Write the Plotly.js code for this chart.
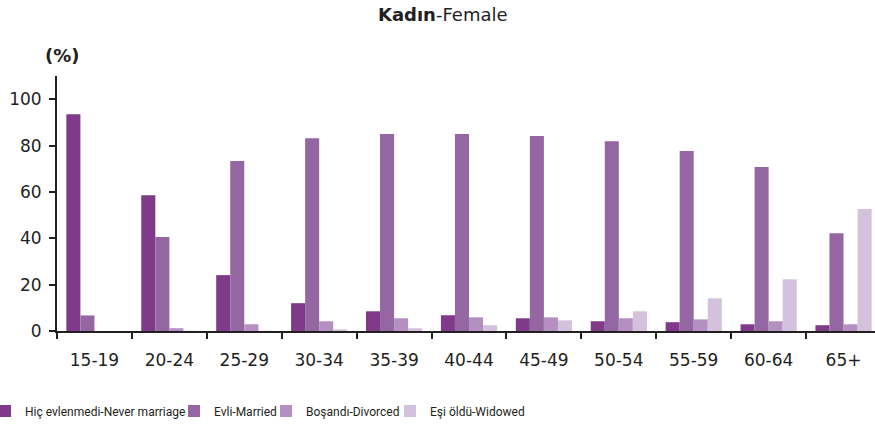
<!DOCTYPE html>
<html>
<head>
<meta charset="utf-8">
<script src="https://cdn.plot.ly/plotly-3.0.1.min.js"></script>
<style>html,body{margin:0;padding:0;background:#fff;}#chart{width:875px;height:426px;}</style>
</head>
<body>
<div id="chart"></div>
<script>
const categories = ["15-19","20-24","25-29","30-34","35-39","40-44","45-49","50-54","55-59","60-64","65+"];
const seriesNames = ["Hiç evlenmedi-Never marriage","Evli-Married","Boşandı-Divorced","Eşi öldü-Widowed"];
const neverMarried = [93.5, 58.6, 24.1, 12.0, 8.5, 6.8, 5.5, 4.2, 3.8, 2.9, 2.5];
const married = [6.7, 40.5, 73.3, 83.2, 85.0, 85.0, 84.1, 81.9, 77.6, 70.7, 42.2];
const divorced = [0.0, 1.2, 2.9, 4.2, 5.5, 5.9, 5.9, 5.5, 5.0, 4.2, 2.9];
const widowed = [0.0, 0.1, 0.1, 0.7, 1.2, 2.5, 4.6, 8.5, 14.1, 22.3, 52.6];
const colors = ["#7f3b8a", "#9467a3", "#b390c1", "#d4c2dc"];

const legendIds = ['legend', 'legend2', 'legend3', 'legend4'];
const legendLeftPx = [0, 174, 266, 390];
const legendIndent = [-15, 0, 0, 0];

const values = [neverMarried, married, divorced, widowed];
const traces = values.map((v, i) => ({
  type: 'bar',
  x: categories,
  y: v,
  name: seriesNames[i],
  legend: legendIds[i],
  marker: {color: colors[i], line: {width: 0}},
  hoverinfo: 'none'
}));

const font = "DejaVu Sans, Verdana, sans-serif";
const legendFont = {family: "Roboto, Liberation Sans, sans-serif", size: 12, color: '#231f20'};
const plotLeft = 57, plotWidth = 818;

const layout = {
  width: 875, height: 426,
  margin: {l: 57, r: 0, t: 76, b: 95, pad: 0},
  paper_bgcolor: '#fff', plot_bgcolor: '#fff',
  barmode: 'group', bargap: 0.25, bargroupgap: 0,
  font: {family: font, size: 17, color: '#231f20'},
  title: {text: '<b>Kadın</b>-Female', x: 0.506, xref: 'container', xanchor: 'center', y: 0.965, yref: 'container', yanchor: 'middle', font: {family: font, size: 18, color: '#231f20'}},
  xaxis: {
    range: [-0.5, 10.42], showgrid: false, zeroline: false,
    showline: true, linecolor: '#231f20', linewidth: 2,
    ticks: 'outside', tickson: 'boundaries', ticklen: 6, tickwidth: 2, tickcolor: '#231f20',
    tickfont: {family: font, size: 17, color: '#231f20'}, ticklabelstandoff: 13
  },
  yaxis: {
    range: [0, 110], tickvals: [0, 20, 40, 60, 80, 100], showgrid: false, zeroline: false,
    showline: true, linecolor: '#231f20', linewidth: 2,
    ticks: 'outside', ticklen: 6, tickwidth: 2, tickcolor: '#231f20',
    tickfont: {family: font, size: 17, color: '#231f20'}, ticklabelstandoff: 4
  },
  showlegend: true,
  annotations: [{
    text: '<b>(%)</b>', xref: 'paper', yref: 'paper', x: 0.007, y: 1.082, xanchor: 'center', yanchor: 'middle',
    showarrow: false, font: {family: font, size: 18, color: '#231f20'}
  }]
};
legendIds.forEach((id, i) => {
  layout[id] = {
    orientation: 'h', x: (legendLeftPx[i] - plotLeft) / plotWidth, xref: 'paper', xanchor: 'left',
    y: 1 - 411 / 426, yref: 'container', yanchor: 'middle',
    font: legendFont, itemwidth: 30, indentation: legendIndent[i],
    bgcolor: 'rgba(0,0,0,0)', borderwidth: 0
  };
});
Plotly.newPlot('chart', traces, layout, {staticPlot: true, displayModeBar: false});
</script>
</body>
</html>
